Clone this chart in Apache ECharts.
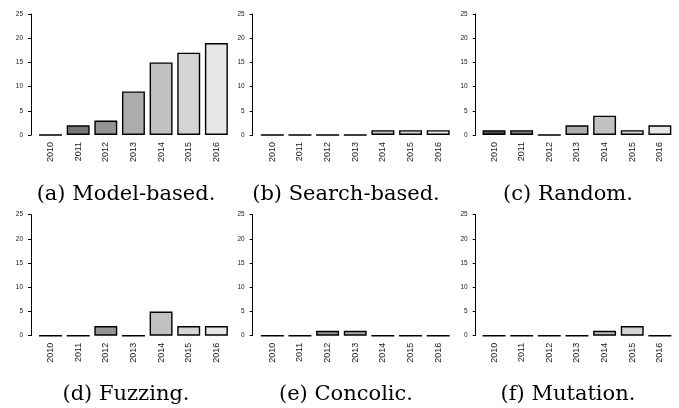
<!DOCTYPE html>
<html>
<head>
<meta charset="utf-8">
<script src="https://cdn.jsdelivr.net/npm/echarts@6/dist/echarts.min.js"></script>
<style>
html,body{margin:0;padding:0;background:#fff;}
#chart{width:679px;height:408px;}
</style>
</head>
<body>
<div id="chart"></div>
<script>
// Data
var years = ['2010','2011','2012','2013','2014','2015','2016'];
var modelBased  = [0, 2, 3, 9, 15, 17, 19];
var searchBased = [0, 0, 0, 0, 1, 1, 1];
var randomT     = [1, 1, 0, 2, 4, 1, 2];
var fuzzing     = [0, 0, 2, 0, 5, 2, 2];
var concolic    = [0, 0, 1, 1, 0, 0, 0];
var mutation    = [0, 0, 0, 0, 1, 2, 0];
var captions = ['(a) Model-based.', '(b) Search-based.', '(c) Random.',
                '(d) Fuzzing.', '(e) Concolic.', '(f) Mutation.'];
var yTicks = [0, 5, 10, 15, 20, 25];

var panels = [modelBased, searchBased, randomT, fuzzing, concolic, mutation];
var greys = ['#4D4D4D','#767676','#949494','#ACACAC','#C1C1C1','#D4D4D4','#E6E6E6'];

var gridLefts = [36.7, 258.5, 480.2];
var axisOffsets = [5.7, 5.8, 4.5];
var gridTops = [14, 214.7];
var capX = [126, 346, 568];
var capY = [195, 395];

var grids = [], xAxes = [], yAxes = [], series = [], graphics = [];
panels.forEach(function (vals, i) {
  var col = i % 3, row = Math.floor(i / 3);
  grids.push({left: gridLefts[col], top: gridTops[row], width: 193.5, height: 121});
  xAxes.push({
    type: 'category', gridIndex: i, data: years,
    axisLine: {show: false}, axisTick: {show: false},
    axisLabel: {rotate: 90, fontSize: 9, fontFamily: 'Liberation Sans', color: '#1a1a1a', margin: 7, interval: 0}
  });
  yAxes.push({
    type: 'value', gridIndex: i, min: yTicks[0], max: yTicks[yTicks.length-1], interval: 5,
    offset: axisOffsets[col],
    splitLine: {show: false},
    axisLine: {show: true, lineStyle: {color: '#000', width: 1}},
    axisTick: {show: true, length: 3, lineStyle: {color: '#000', width: 1}},
    axisLabel: {fontSize: 6.5, fontFamily: 'Liberation Sans', color: '#1a1a1a', margin: 8}
  });
  series.push({
    type: 'bar', xAxisIndex: i, yAxisIndex: i, data: vals,
    colorBy: 'data', barCategoryGap: '17%',
    itemStyle: {borderColor: '#000', borderWidth: 1.4},
    silent: true, animation: false
  });
  graphics.push({
    type: 'text', x: capX[col], y: capY[row],
    style: {text: captions[i], font: '21px "DejaVu Serif"', fill: '#000',
            textAlign: 'center', textVerticalAlign: 'middle'}
  });
});

var chart = echarts.init(document.getElementById('chart'), null, {renderer: 'canvas'});
chart.setOption({
  animation: false,
  color: greys,
  grid: grids, xAxis: xAxes, yAxis: yAxes, series: series,
  graphic: graphics
});
</script>
</body>
</html>
